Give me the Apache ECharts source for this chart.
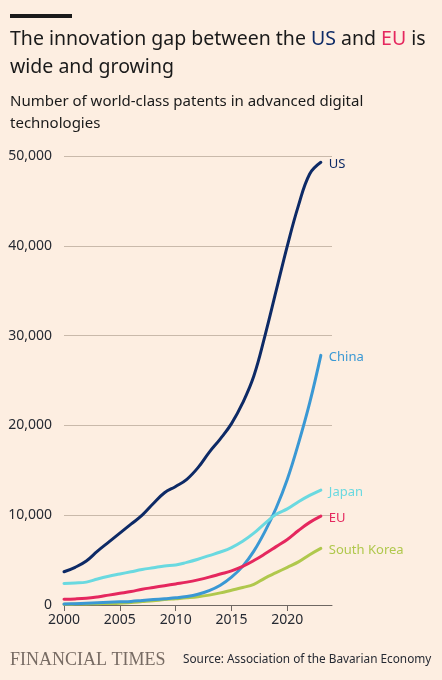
<!DOCTYPE html>
<html><head><meta charset="utf-8">
<script src="https://cdn.jsdelivr.net/npm/echarts@6/dist/echarts.min.js"></script>
<style>html,body{margin:0;padding:0;background:#fdeee1;}#c{width:442px;height:680px;}</style>
</head><body><div id="c"></div>
<script>
const years = [2000,2001,2002,2003,2004,2005,2006,2007,2008,2009,2010,2011,2012,2013,2014,2015,2016,2017,2018,2019,2020,2021,2022,2023];
const us     = [3700,4200,4900,6000,7000,8000,9000,10000,11300,12500,13200,14000,15300,17000,18500,20200,22500,25500,30000,35000,40000,44500,48000,49300];
const china  = [100,150,200,250,300,350,400,500,600,700,800,950,1200,1600,2200,3100,4300,6000,8200,10800,14000,18000,22500,27800];
const japan  = [2400,2450,2550,2900,3200,3450,3700,3950,4150,4350,4450,4750,5100,5500,5900,6400,7100,8000,9100,10100,10700,11500,12200,12800];
const eu     = [650,680,750,900,1100,1300,1500,1750,1950,2150,2350,2550,2800,3100,3450,3800,4300,4950,5700,6500,7300,8300,9200,9900];
const korea  = [80,100,120,150,170,200,280,380,480,600,700,800,920,1100,1350,1650,1950,2300,3000,3600,4200,4800,5600,6300];
const xTicks = [2000,2005,2010,2015,2020];
const yTicks = [0,10000,20000,30000,40000,50000];

const FONT = '"Noto Sans", sans-serif';
const chart = echarts.init(document.getElementById('c'), null, {renderer:'canvas'});
function mk(name, vals, color){
  return {
    name, type:'line', smooth:0.4, symbol:'none',
    data: years.map((y,i)=>[y, vals[i]]),
    lineStyle:{width:3, color, cap:'round'},
    itemStyle:{color},
    endLabel:{show:true, formatter:name, color, fontFamily:FONT, fontSize:13, distance:8, offset:[0,2]}
  };
}
chart.setOption({
  backgroundColor:'#fdeee1',
  animation:false,
  title:[{
    left:10, top:25, padding:0,
    text:'{a|The innovation gap between the }{us|US}{a| and }{eu|EU}{a| is}\n{a|wide and growing}',
    textStyle:{fontWeight:'normal', rich:{
      a:{fontFamily:FONT, fontSize:19.5, fontWeight:'normal', color:'#1a1a1a', lineHeight:28},
      us:{fontFamily:FONT, fontSize:19.5, fontWeight:'normal', color:'#0d2a66', lineHeight:28},
      eu:{fontFamily:FONT, fontSize:19.5, fontWeight:'normal', color:'#e5275e', lineHeight:28}
    }}
  },{
    left:10, top:90, padding:0,
    text:'Number of world-class patents in advanced digital\ntechnologies',
    textStyle:{fontFamily:FONT, fontSize:15, color:'#1a1a1a', fontWeight:'normal', lineHeight:22.5}
  },{
    left:10, top:651, padding:0,
    text:'FINANCIAL TIMES',
    textStyle:{fontFamily:'"Liberation Serif", serif', fontSize:18, color:'#776b63', fontWeight:'normal'}
  },{
    left:183, top:654, padding:0,
    text:'Source: Association of the Bavarian Economy',
    textStyle:{fontFamily:FONT, fontSize:11.8, color:'#262a33', fontWeight:'normal'}
  }],
  graphic:[{type:'rect', shape:{x:10,y:14,width:62,height:4}, style:{fill:'#1a1a1a'}}],
  grid:{left:64, right:110, top:156, bottom:75, containLabel:false},
  xAxis:{
    type:'value', min:2000, max:2024, interval:5,
    splitLine:{show:false},
    axisLine:{show:true, lineStyle:{color:'#6e6762', width:1}},
    axisTick:{show:true, customValues:xTicks, length:6, lineStyle:{color:'#6e6762'}},
    axisLabel:{customValues:xTicks, formatter:v=>String(v), color:'#262a33', fontFamily:FONT, fontSize:14, margin:8}
  },
  yAxis:{
    type:'value', min:0, max:50000, interval:10000,
    axisLine:{show:false}, axisTick:{show:false},
    splitLine:{lineStyle:{color:'#c9b9aa', width:1}},
    axisLabel:{customValues:yTicks, formatter:v=>v.toLocaleString('en-US'), color:'#262a33', fontFamily:FONT, fontSize:14, margin:12}
  },
  series:[
    mk('South Korea', korea, '#b0c84d'),
    mk('China', china, '#3a98d4'),
    mk('EU', eu, '#e5275e'),
    mk('Japan', japan, '#6ad9e0'),
    mk('US', us, '#0d2a66')
  ]
});
</script></body></html>
